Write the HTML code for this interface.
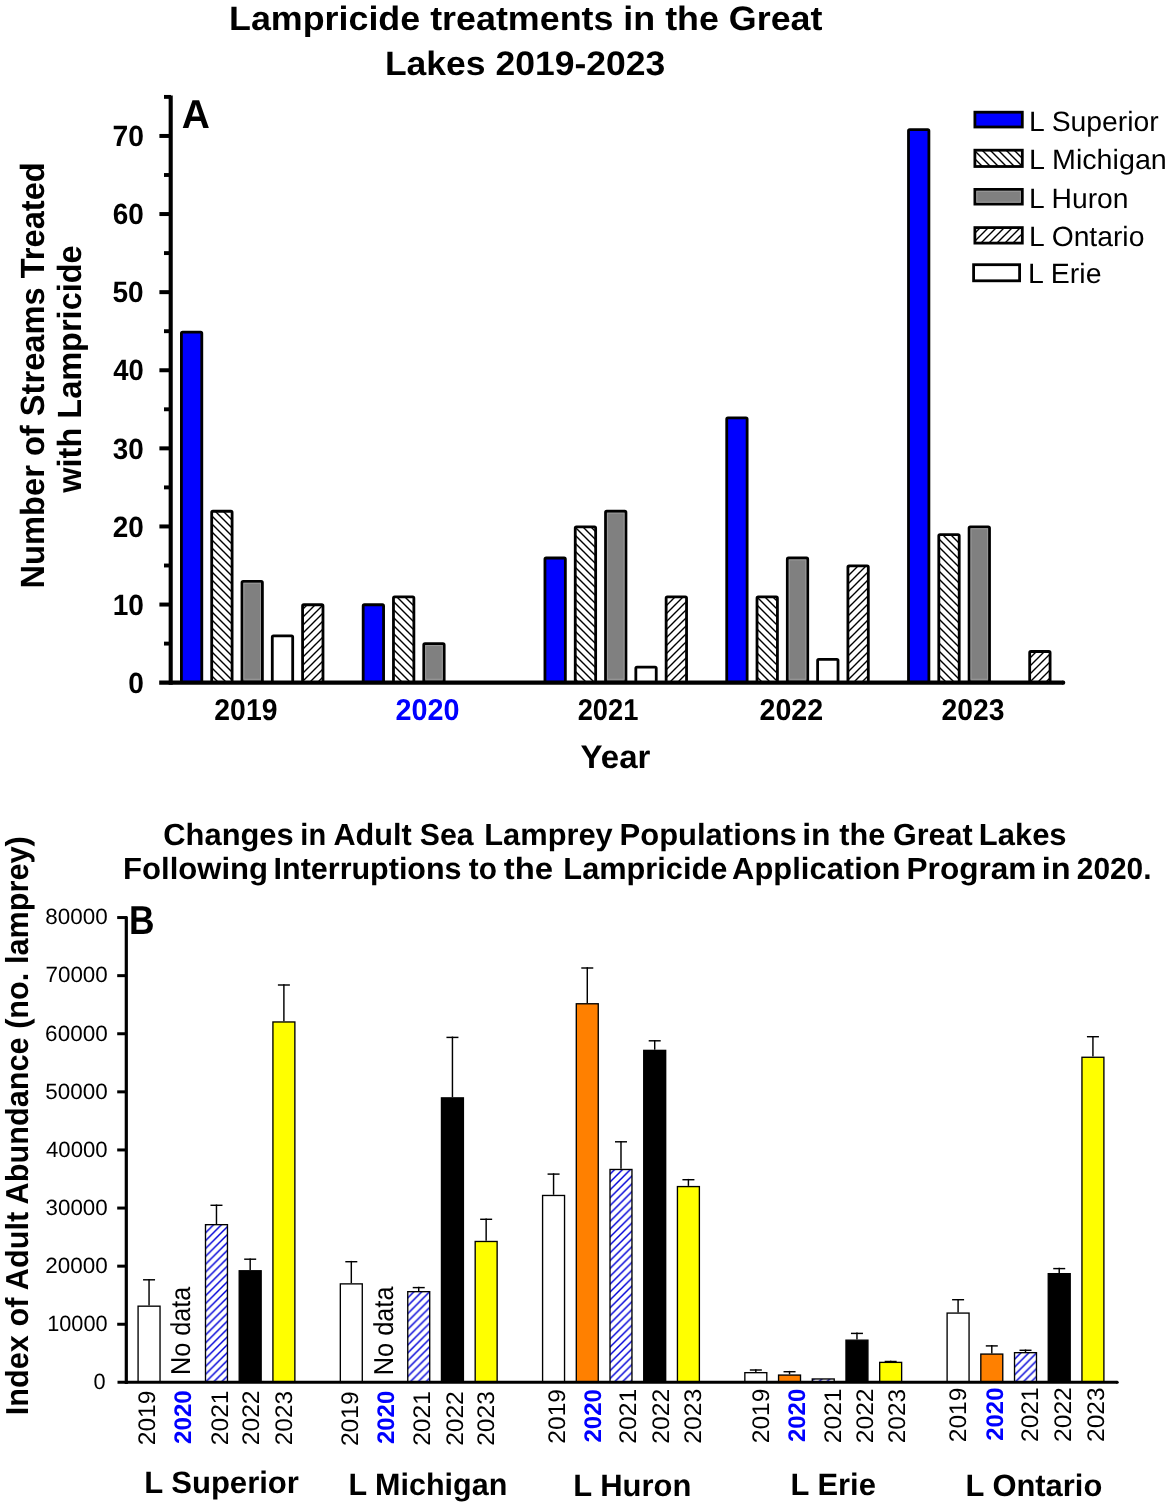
<!DOCTYPE html>
<html><head><meta charset="utf-8"><title>Lampricide treatments in the Great Lakes</title>
<style>
html,body{margin:0;padding:0;background:#fff;width:1170px;height:1505px;overflow:hidden}
svg{display:block;will-change:transform}
text{font-family:"Liberation Sans",sans-serif;text-rendering:geometricPrecision}
</style></head><body>
<svg width="1170" height="1505" viewBox="0 0 1170 1505">
<defs>
<pattern id="hatchB" patternUnits="userSpaceOnUse" width="8" height="8">
<rect width="8" height="8" fill="#fff"/>
<path d="M-2,-2 L10,10 M-2,6 L2,10 M6,-2 L10,2" stroke="#000" stroke-width="1.4"/>
</pattern>
<pattern id="hatchF" patternUnits="userSpaceOnUse" width="8" height="8">
<rect width="8" height="8" fill="#fff"/>
<path d="M-2,10 L10,-2 M-2,2 L2,-2 M6,10 L10,6" stroke="#000" stroke-width="1.4"/>
</pattern>
<pattern id="hatchBlue" patternUnits="userSpaceOnUse" width="7.86" height="7.86">
<rect width="7.86" height="7.86" fill="#fff"/>
<path d="M-2,9.86 L9.86,-2 M-2,2 L2,-2 M5.86,9.86 L9.86,5.86" stroke="#0000d8" stroke-width="1.4"/>
</pattern>
</defs>
<rect x="181.40" y="332.10" width="20.40" height="350.55" fill="#0000ff" stroke="#000" stroke-width="2.8" stroke-linejoin="round" rx="1.2"/>
<rect x="211.70" y="511.27" width="20.40" height="171.38" fill="url(#hatchB)" stroke="#000" stroke-width="2.8" stroke-linejoin="round" rx="1.2"/>
<rect x="241.99" y="581.38" width="20.40" height="101.27" fill="#808080" stroke="#000" stroke-width="2.8" stroke-linejoin="round" rx="1.2"/>
<rect x="243.89" y="583.28" width="16.60" height="95.97" fill="none" stroke="#9a9a9a" stroke-width="1"/>
<rect x="272.29" y="635.91" width="20.40" height="46.74" fill="#ffffff" stroke="#000" stroke-width="2.8" stroke-linejoin="round" rx="1.2"/>
<rect x="302.58" y="604.75" width="20.40" height="77.90" fill="url(#hatchF)" stroke="#000" stroke-width="2.8" stroke-linejoin="round" rx="1.2"/>
<rect x="363.18" y="604.75" width="20.40" height="77.90" fill="#0000ff" stroke="#000" stroke-width="2.8" stroke-linejoin="round" rx="1.2"/>
<rect x="393.47" y="596.96" width="20.40" height="85.69" fill="url(#hatchB)" stroke="#000" stroke-width="2.8" stroke-linejoin="round" rx="1.2"/>
<rect x="423.77" y="643.70" width="20.40" height="38.95" fill="#808080" stroke="#000" stroke-width="2.8" stroke-linejoin="round" rx="1.2"/>
<rect x="425.67" y="645.60" width="16.60" height="33.65" fill="none" stroke="#9a9a9a" stroke-width="1"/>
<rect x="544.95" y="558.01" width="20.40" height="124.64" fill="#0000ff" stroke="#000" stroke-width="2.8" stroke-linejoin="round" rx="1.2"/>
<rect x="575.25" y="526.85" width="20.40" height="155.80" fill="url(#hatchB)" stroke="#000" stroke-width="2.8" stroke-linejoin="round" rx="1.2"/>
<rect x="605.54" y="511.27" width="20.40" height="171.38" fill="#808080" stroke="#000" stroke-width="2.8" stroke-linejoin="round" rx="1.2"/>
<rect x="607.44" y="513.17" width="16.60" height="166.08" fill="none" stroke="#9a9a9a" stroke-width="1"/>
<rect x="635.84" y="667.07" width="20.40" height="15.58" fill="#ffffff" stroke="#000" stroke-width="2.8" stroke-linejoin="round" rx="1.2"/>
<rect x="666.14" y="596.96" width="20.40" height="85.69" fill="url(#hatchF)" stroke="#000" stroke-width="2.8" stroke-linejoin="round" rx="1.2"/>
<rect x="726.73" y="417.79" width="20.40" height="264.86" fill="#0000ff" stroke="#000" stroke-width="2.8" stroke-linejoin="round" rx="1.2"/>
<rect x="757.02" y="596.96" width="20.40" height="85.69" fill="url(#hatchB)" stroke="#000" stroke-width="2.8" stroke-linejoin="round" rx="1.2"/>
<rect x="787.32" y="558.01" width="20.40" height="124.64" fill="#808080" stroke="#000" stroke-width="2.8" stroke-linejoin="round" rx="1.2"/>
<rect x="789.22" y="559.91" width="16.60" height="119.34" fill="none" stroke="#9a9a9a" stroke-width="1"/>
<rect x="817.62" y="659.28" width="20.40" height="23.37" fill="#ffffff" stroke="#000" stroke-width="2.8" stroke-linejoin="round" rx="1.2"/>
<rect x="847.91" y="565.80" width="20.40" height="116.85" fill="url(#hatchF)" stroke="#000" stroke-width="2.8" stroke-linejoin="round" rx="1.2"/>
<rect x="908.50" y="129.56" width="20.40" height="553.09" fill="#0000ff" stroke="#000" stroke-width="2.8" stroke-linejoin="round" rx="1.2"/>
<rect x="938.80" y="534.64" width="20.40" height="148.01" fill="url(#hatchB)" stroke="#000" stroke-width="2.8" stroke-linejoin="round" rx="1.2"/>
<rect x="969.10" y="526.85" width="20.40" height="155.80" fill="#808080" stroke="#000" stroke-width="2.8" stroke-linejoin="round" rx="1.2"/>
<rect x="971.00" y="528.75" width="16.60" height="150.50" fill="none" stroke="#9a9a9a" stroke-width="1"/>
<rect x="1029.69" y="651.49" width="20.40" height="31.16" fill="url(#hatchF)" stroke="#000" stroke-width="2.8" stroke-linejoin="round" rx="1.2"/>
<line x1="170.7" y1="95.6" x2="170.7" y2="684.7" stroke="#000" stroke-width="4.1"/>
<line x1="159.2" y1="682.65" x2="1063.25" y2="682.65" stroke="#000" stroke-width="4.1"/>
<circle cx="1063.25" cy="682.65" r="2.05" fill="#000"/>
<line x1="164" y1="643.60" x2="171" y2="643.60" stroke="#000" stroke-width="3.9"/>
<line x1="159.4" y1="604.55" x2="171" y2="604.55" stroke="#000" stroke-width="4"/>
<line x1="164" y1="565.50" x2="171" y2="565.50" stroke="#000" stroke-width="3.9"/>
<line x1="159.4" y1="526.45" x2="171" y2="526.45" stroke="#000" stroke-width="4"/>
<line x1="164" y1="487.40" x2="171" y2="487.40" stroke="#000" stroke-width="3.9"/>
<line x1="159.4" y1="448.35" x2="171" y2="448.35" stroke="#000" stroke-width="4"/>
<line x1="164" y1="409.30" x2="171" y2="409.30" stroke="#000" stroke-width="3.9"/>
<line x1="159.4" y1="370.25" x2="171" y2="370.25" stroke="#000" stroke-width="4"/>
<line x1="164" y1="331.20" x2="171" y2="331.20" stroke="#000" stroke-width="3.9"/>
<line x1="159.4" y1="292.15" x2="171" y2="292.15" stroke="#000" stroke-width="4"/>
<line x1="164" y1="253.10" x2="171" y2="253.10" stroke="#000" stroke-width="3.9"/>
<line x1="159.4" y1="214.05" x2="171" y2="214.05" stroke="#000" stroke-width="4"/>
<line x1="164" y1="175.00" x2="171" y2="175.00" stroke="#000" stroke-width="3.9"/>
<line x1="159.4" y1="135.95" x2="171" y2="135.95" stroke="#000" stroke-width="4"/>
<line x1="164" y1="96.90" x2="171" y2="96.90" stroke="#000" stroke-width="3.9"/>
<rect x="974.90" y="112.20" width="47.40" height="14.80" fill="#0000ff" stroke="#000" stroke-width="2.8"/>
<rect x="974.90" y="150.20" width="47.40" height="16.30" fill="url(#hatchB)" stroke="#000" stroke-width="2.8"/>
<rect x="974.90" y="189.40" width="47.40" height="14.70" fill="#808080" stroke="#000" stroke-width="2.8"/>
<rect x="976.80" y="191.30" width="43.60" height="10.90" fill="none" stroke="#9a9a9a" stroke-width="1"/>
<rect x="974.90" y="227.60" width="47.40" height="15.50" fill="url(#hatchF)" stroke="#000" stroke-width="2.8"/>
<rect x="973.60" y="264.70" width="46.00" height="16.10" fill="#ffffff" stroke="#000" stroke-width="2.8"/>
<line x1="149.05" y1="1305.50" x2="149.05" y2="1279.00" stroke="#000" stroke-width="1.45"/>
<line x1="143.05" y1="1279.80" x2="155.05" y2="1279.80" stroke="#000" stroke-width="1.45"/>
<rect x="138.08" y="1306.17" width="21.95" height="76.17" fill="#ffffff" stroke="#000" stroke-width="1.35"/>
<line x1="216.47" y1="1224.00" x2="216.47" y2="1204.50" stroke="#000" stroke-width="1.45"/>
<line x1="210.47" y1="1205.30" x2="222.47" y2="1205.30" stroke="#000" stroke-width="1.45"/>
<rect x="205.50" y="1224.67" width="21.95" height="157.67" fill="url(#hatchBlue)" stroke="#000" stroke-width="1.35"/>
<line x1="250.18" y1="1270.10" x2="250.18" y2="1258.40" stroke="#000" stroke-width="1.45"/>
<line x1="244.18" y1="1259.20" x2="256.18" y2="1259.20" stroke="#000" stroke-width="1.45"/>
<rect x="239.21" y="1270.77" width="21.95" height="111.58" fill="#000000" stroke="#000" stroke-width="1.35"/>
<line x1="283.89" y1="1021.30" x2="283.89" y2="984.20" stroke="#000" stroke-width="1.45"/>
<line x1="277.89" y1="985.00" x2="289.89" y2="985.00" stroke="#000" stroke-width="1.45"/>
<rect x="272.92" y="1021.97" width="21.95" height="360.38" fill="#ffff00" stroke="#000" stroke-width="1.35"/>
<line x1="351.31" y1="1283.20" x2="351.31" y2="1260.90" stroke="#000" stroke-width="1.45"/>
<line x1="345.31" y1="1261.70" x2="357.31" y2="1261.70" stroke="#000" stroke-width="1.45"/>
<rect x="340.33" y="1283.88" width="21.95" height="98.47" fill="#ffffff" stroke="#000" stroke-width="1.35"/>
<line x1="418.73" y1="1291.00" x2="418.73" y2="1286.80" stroke="#000" stroke-width="1.45"/>
<line x1="412.73" y1="1287.60" x2="424.73" y2="1287.60" stroke="#000" stroke-width="1.45"/>
<rect x="407.76" y="1291.67" width="21.95" height="90.67" fill="url(#hatchBlue)" stroke="#000" stroke-width="1.35"/>
<line x1="452.44" y1="1097.20" x2="452.44" y2="1036.60" stroke="#000" stroke-width="1.45"/>
<line x1="446.44" y1="1037.40" x2="458.44" y2="1037.40" stroke="#000" stroke-width="1.45"/>
<rect x="441.46" y="1097.88" width="21.95" height="284.47" fill="#000000" stroke="#000" stroke-width="1.35"/>
<line x1="486.15" y1="1240.80" x2="486.15" y2="1218.50" stroke="#000" stroke-width="1.45"/>
<line x1="480.15" y1="1219.30" x2="492.15" y2="1219.30" stroke="#000" stroke-width="1.45"/>
<rect x="475.18" y="1241.47" width="21.95" height="140.88" fill="#ffff00" stroke="#000" stroke-width="1.35"/>
<line x1="553.57" y1="1194.80" x2="553.57" y2="1173.30" stroke="#000" stroke-width="1.45"/>
<line x1="547.57" y1="1174.10" x2="559.57" y2="1174.10" stroke="#000" stroke-width="1.45"/>
<rect x="542.59" y="1195.47" width="21.95" height="186.88" fill="#ffffff" stroke="#000" stroke-width="1.35"/>
<line x1="587.28" y1="1003.10" x2="587.28" y2="967.20" stroke="#000" stroke-width="1.45"/>
<line x1="581.28" y1="968.00" x2="593.28" y2="968.00" stroke="#000" stroke-width="1.45"/>
<rect x="576.30" y="1003.77" width="21.95" height="378.57" fill="#ff8000" stroke="#000" stroke-width="1.35"/>
<line x1="620.99" y1="1168.80" x2="620.99" y2="1141.00" stroke="#000" stroke-width="1.45"/>
<line x1="614.99" y1="1141.80" x2="626.99" y2="1141.80" stroke="#000" stroke-width="1.45"/>
<rect x="610.01" y="1169.47" width="21.95" height="212.88" fill="url(#hatchBlue)" stroke="#000" stroke-width="1.35"/>
<line x1="654.70" y1="1049.70" x2="654.70" y2="1040.00" stroke="#000" stroke-width="1.45"/>
<line x1="648.70" y1="1040.80" x2="660.70" y2="1040.80" stroke="#000" stroke-width="1.45"/>
<rect x="643.73" y="1050.38" width="21.95" height="331.97" fill="#000000" stroke="#000" stroke-width="1.35"/>
<line x1="688.41" y1="1185.90" x2="688.41" y2="1178.90" stroke="#000" stroke-width="1.45"/>
<line x1="682.41" y1="1179.70" x2="694.41" y2="1179.70" stroke="#000" stroke-width="1.45"/>
<rect x="677.43" y="1186.58" width="21.95" height="195.77" fill="#ffff00" stroke="#000" stroke-width="1.35"/>
<line x1="755.83" y1="1372.00" x2="755.83" y2="1369.20" stroke="#000" stroke-width="1.45"/>
<line x1="749.83" y1="1370.00" x2="761.83" y2="1370.00" stroke="#000" stroke-width="1.45"/>
<rect x="744.85" y="1372.67" width="21.95" height="9.67" fill="#ffffff" stroke="#000" stroke-width="1.35"/>
<line x1="789.54" y1="1374.40" x2="789.54" y2="1370.90" stroke="#000" stroke-width="1.45"/>
<line x1="783.54" y1="1371.70" x2="795.54" y2="1371.70" stroke="#000" stroke-width="1.45"/>
<rect x="778.56" y="1375.08" width="21.95" height="7.27" fill="#ff8000" stroke="#000" stroke-width="1.35"/>
<rect x="812.27" y="1378.97" width="21.95" height="3.38" fill="url(#hatchBlue)" stroke="#000" stroke-width="1.35"/>
<line x1="856.96" y1="1339.50" x2="856.96" y2="1332.60" stroke="#000" stroke-width="1.45"/>
<line x1="850.96" y1="1333.40" x2="862.96" y2="1333.40" stroke="#000" stroke-width="1.45"/>
<rect x="845.98" y="1340.17" width="21.95" height="42.17" fill="#000000" stroke="#000" stroke-width="1.35"/>
<line x1="890.67" y1="1361.70" x2="890.67" y2="1360.70" stroke="#000" stroke-width="1.45"/>
<line x1="884.67" y1="1361.50" x2="896.67" y2="1361.50" stroke="#000" stroke-width="1.45"/>
<rect x="879.69" y="1362.38" width="21.95" height="19.97" fill="#ffff00" stroke="#000" stroke-width="1.35"/>
<line x1="958.09" y1="1312.40" x2="958.09" y2="1298.90" stroke="#000" stroke-width="1.45"/>
<line x1="952.09" y1="1299.70" x2="964.09" y2="1299.70" stroke="#000" stroke-width="1.45"/>
<rect x="947.11" y="1313.08" width="21.95" height="69.27" fill="#ffffff" stroke="#000" stroke-width="1.35"/>
<line x1="991.80" y1="1353.40" x2="991.80" y2="1345.10" stroke="#000" stroke-width="1.45"/>
<line x1="985.80" y1="1345.90" x2="997.80" y2="1345.90" stroke="#000" stroke-width="1.45"/>
<rect x="980.82" y="1354.08" width="21.95" height="28.27" fill="#ff8000" stroke="#000" stroke-width="1.35"/>
<line x1="1025.51" y1="1352.00" x2="1025.51" y2="1349.50" stroke="#000" stroke-width="1.45"/>
<line x1="1019.51" y1="1350.30" x2="1031.51" y2="1350.30" stroke="#000" stroke-width="1.45"/>
<rect x="1014.53" y="1352.67" width="21.95" height="29.67" fill="url(#hatchBlue)" stroke="#000" stroke-width="1.35"/>
<line x1="1059.22" y1="1273.00" x2="1059.22" y2="1267.80" stroke="#000" stroke-width="1.45"/>
<line x1="1053.22" y1="1268.60" x2="1065.22" y2="1268.60" stroke="#000" stroke-width="1.45"/>
<rect x="1048.25" y="1273.67" width="21.95" height="108.67" fill="#000000" stroke="#000" stroke-width="1.35"/>
<line x1="1092.93" y1="1056.60" x2="1092.93" y2="1035.90" stroke="#000" stroke-width="1.45"/>
<line x1="1086.93" y1="1036.70" x2="1098.93" y2="1036.70" stroke="#000" stroke-width="1.45"/>
<rect x="1081.95" y="1057.27" width="21.95" height="325.08" fill="#ffff00" stroke="#000" stroke-width="1.35"/>
<line x1="126.3" y1="916.5" x2="126.3" y2="1384" stroke="#000" stroke-width="3.2"/>
<line x1="117.5" y1="1382.35" x2="1117.2" y2="1382.35" stroke="#000" stroke-width="3"/>
<circle cx="1117.2" cy="1382.35" r="1.5" fill="#000"/>
<line x1="117.2" y1="1324.25" x2="127" y2="1324.25" stroke="#000" stroke-width="3"/>
<line x1="117.2" y1="1266.15" x2="127" y2="1266.15" stroke="#000" stroke-width="3"/>
<line x1="117.2" y1="1208.05" x2="127" y2="1208.05" stroke="#000" stroke-width="3"/>
<line x1="117.2" y1="1149.95" x2="127" y2="1149.95" stroke="#000" stroke-width="3"/>
<line x1="117.2" y1="1091.85" x2="127" y2="1091.85" stroke="#000" stroke-width="3"/>
<line x1="117.2" y1="1033.75" x2="127" y2="1033.75" stroke="#000" stroke-width="3"/>
<line x1="117.2" y1="975.65" x2="127" y2="975.65" stroke="#000" stroke-width="3"/>
<line x1="117.2" y1="917.55" x2="127" y2="917.55" stroke="#000" stroke-width="3"/>
<text x="228.99" y="29.7" font-size="33.9" font-weight="bold" textLength="593.51" lengthAdjust="spacingAndGlyphs">Lampricide treatments in the Great</text>
<text x="384.90" y="74.6" font-size="33.9" font-weight="bold" textLength="280.45" lengthAdjust="spacingAndGlyphs">Lakes 2019-2023</text>
<text x="181.69" y="128.0" font-size="40.5" font-weight="bold" textLength="28.15" lengthAdjust="spacingAndGlyphs">A</text>
<text x="128.25" y="692.85" font-size="29.3" font-weight="bold" textLength="15.65" lengthAdjust="spacingAndGlyphs">0</text>
<text x="112.64" y="614.75" font-size="29.3" font-weight="bold" textLength="31.27" lengthAdjust="spacingAndGlyphs">10</text>
<text x="112.79" y="536.65" font-size="29.3" font-weight="bold" textLength="31.06" lengthAdjust="spacingAndGlyphs">20</text>
<text x="112.80" y="458.55" font-size="29.3" font-weight="bold" textLength="31.01" lengthAdjust="spacingAndGlyphs">30</text>
<text x="113.33" y="380.45" font-size="29.3" font-weight="bold" textLength="30.48" lengthAdjust="spacingAndGlyphs">40</text>
<text x="112.57" y="302.35" font-size="29.3" font-weight="bold" textLength="31.13" lengthAdjust="spacingAndGlyphs">50</text>
<text x="112.70" y="224.25" font-size="29.3" font-weight="bold" textLength="31.09" lengthAdjust="spacingAndGlyphs">60</text>
<text x="112.52" y="146.15" font-size="29.3" font-weight="bold" textLength="31.46" lengthAdjust="spacingAndGlyphs">70</text>
<text x="214.35" y="719.9" font-size="30.1" font-weight="bold" textLength="63.08" lengthAdjust="spacingAndGlyphs">2019</text>
<text x="395.53" y="719.9" font-size="30.1" font-weight="bold" fill="#0000ff" textLength="64.02" lengthAdjust="spacingAndGlyphs">2020</text>
<text x="577.63" y="719.9" font-size="30.1" font-weight="bold" textLength="60.72" lengthAdjust="spacingAndGlyphs">2021</text>
<text x="759.52" y="719.9" font-size="30.1" font-weight="bold" textLength="63.63" lengthAdjust="spacingAndGlyphs">2022</text>
<text x="941.60" y="719.9" font-size="30.1" font-weight="bold" textLength="62.91" lengthAdjust="spacingAndGlyphs">2023</text>
<text x="580.61" y="767.7" font-size="32.6" font-weight="bold" textLength="69.80" lengthAdjust="spacingAndGlyphs">Year</text>
<text x="1029.13" y="130.6" font-size="27.9" textLength="129.66" lengthAdjust="spacingAndGlyphs">L Superior</text>
<text x="1029.14" y="168.7" font-size="27.9" textLength="137.69" lengthAdjust="spacingAndGlyphs">L Michigan</text>
<text x="1029.08" y="207.6" font-size="27.9" textLength="99.48" lengthAdjust="spacingAndGlyphs">L Huron</text>
<text x="1029.12" y="245.7" font-size="27.9" textLength="115.24" lengthAdjust="spacingAndGlyphs">L Ontario</text>
<text x="1028.12" y="283.2" font-size="27.9" textLength="73.46" lengthAdjust="spacingAndGlyphs">L Erie</text>
<text transform="translate(43.8,0) rotate(-90)" x="-588.47" y="0" font-size="33.6" font-weight="bold" textLength="426.27" lengthAdjust="spacingAndGlyphs">Number of Streams Treated</text>
<text transform="translate(81.0,0) rotate(-90)" x="-492.71" y="0" font-size="33.6" font-weight="bold" textLength="247.38" lengthAdjust="spacingAndGlyphs">with Lampricide</text>
<text x="163.33" y="844.9" font-size="30.6" font-weight="bold" textLength="130.37" lengthAdjust="spacingAndGlyphs">Changes</text>
<text x="300.33" y="844.9" font-size="30.6" font-weight="bold" textLength="25.77" lengthAdjust="spacingAndGlyphs">in</text>
<text x="333.48" y="844.9" font-size="30.6" font-weight="bold" textLength="78.26" lengthAdjust="spacingAndGlyphs">Adult</text>
<text x="419.84" y="844.9" font-size="30.6" font-weight="bold" textLength="53.79" lengthAdjust="spacingAndGlyphs">Sea</text>
<text x="484.28" y="844.9" font-size="30.6" font-weight="bold" textLength="128.49" lengthAdjust="spacingAndGlyphs">Lamprey</text>
<text x="619.60" y="844.9" font-size="30.6" font-weight="bold" textLength="177.25" lengthAdjust="spacingAndGlyphs">Populations</text>
<text x="802.18" y="844.9" font-size="30.6" font-weight="bold" textLength="28.35" lengthAdjust="spacingAndGlyphs">in</text>
<text x="839.36" y="844.9" font-size="30.6" font-weight="bold" textLength="45.98" lengthAdjust="spacingAndGlyphs">the</text>
<text x="892.92" y="844.9" font-size="30.6" font-weight="bold" textLength="79.67" lengthAdjust="spacingAndGlyphs">Great</text>
<text x="978.84" y="844.9" font-size="30.6" font-weight="bold" textLength="87.76" lengthAdjust="spacingAndGlyphs">Lakes</text>
<text x="123.07" y="878.8" font-size="30.6" font-weight="bold" textLength="145.04" lengthAdjust="spacingAndGlyphs">Following</text>
<text x="273.59" y="878.8" font-size="30.6" font-weight="bold" textLength="187.99" lengthAdjust="spacingAndGlyphs">Interruptions</text>
<text x="468.83" y="878.8" font-size="30.6" font-weight="bold" textLength="28.11" lengthAdjust="spacingAndGlyphs">to</text>
<text x="503.69" y="878.8" font-size="30.6" font-weight="bold" textLength="49.29" lengthAdjust="spacingAndGlyphs">the</text>
<text x="563.35" y="878.8" font-size="30.6" font-weight="bold" textLength="164.06" lengthAdjust="spacingAndGlyphs">Lampricide</text>
<text x="732.14" y="878.8" font-size="30.6" font-weight="bold" textLength="168.40" lengthAdjust="spacingAndGlyphs">Application</text>
<text x="906.57" y="878.8" font-size="30.6" font-weight="bold" textLength="129.82" lengthAdjust="spacingAndGlyphs">Program</text>
<text x="1041.76" y="878.8" font-size="30.6" font-weight="bold" textLength="28.87" lengthAdjust="spacingAndGlyphs">in</text>
<text x="1076.81" y="878.8" font-size="30.6" font-weight="bold" textLength="74.69" lengthAdjust="spacingAndGlyphs">2020.</text>
<text x="129.12" y="934.2" font-size="40.5" font-weight="bold" textLength="25.49" lengthAdjust="spacingAndGlyphs">B</text>
<text x="93.42" y="1389.1" font-size="22.1" textLength="12.11" lengthAdjust="spacingAndGlyphs">0</text>
<text x="47.20" y="1331.0" font-size="22.1" textLength="60.35" lengthAdjust="spacingAndGlyphs">10000</text>
<text x="45.21" y="1272.9" font-size="22.1" textLength="62.43" lengthAdjust="spacingAndGlyphs">20000</text>
<text x="45.57" y="1214.8" font-size="22.1" textLength="62.17" lengthAdjust="spacingAndGlyphs">30000</text>
<text x="46.06" y="1156.7" font-size="22.1" textLength="61.58" lengthAdjust="spacingAndGlyphs">40000</text>
<text x="45.26" y="1098.6" font-size="22.1" textLength="62.42" lengthAdjust="spacingAndGlyphs">50000</text>
<text x="45.13" y="1040.5" font-size="22.1" textLength="62.56" lengthAdjust="spacingAndGlyphs">60000</text>
<text x="45.53" y="982.4" font-size="22.1" textLength="62.21" lengthAdjust="spacingAndGlyphs">70000</text>
<text x="45.35" y="924.3" font-size="22.1" textLength="62.39" lengthAdjust="spacingAndGlyphs">80000</text>
<text transform="translate(28.2,0) rotate(-90)" x="-1415.21" y="0" font-size="31.8" font-weight="bold" textLength="579.00" lengthAdjust="spacingAndGlyphs">Index of Adult Abundance (no. lamprey)</text>
<text transform="translate(189.8,0) rotate(-90)" x="-1375.04" y="0" font-size="27.4" textLength="88.42" lengthAdjust="spacingAndGlyphs">No data</text>
<text transform="translate(393.3,0) rotate(-90)" x="-1375.23" y="0" font-size="27.4" textLength="88.69" lengthAdjust="spacingAndGlyphs">No data</text>
<text transform="translate(155.1,0) rotate(-90)" x="-1445.23" y="0" font-size="24.0" textLength="54.56" lengthAdjust="spacingAndGlyphs">2019</text>
<text transform="translate(191.4,0) rotate(-90)" x="-1443.88" y="0" font-size="24.0" font-weight="bold" fill="#0000ff" textLength="53.58" lengthAdjust="spacingAndGlyphs">2020</text>
<text transform="translate(227.8,0) rotate(-90)" x="-1445.23" y="0" font-size="24.0" textLength="54.78" lengthAdjust="spacingAndGlyphs">2021</text>
<text transform="translate(259.4,0) rotate(-90)" x="-1445.23" y="0" font-size="24.0" textLength="54.78" lengthAdjust="spacingAndGlyphs">2022</text>
<text transform="translate(291.5,0) rotate(-90)" x="-1445.22" y="0" font-size="24.0" textLength="54.25" lengthAdjust="spacingAndGlyphs">2023</text>
<text transform="translate(357.7,0) rotate(-90)" x="-1446.06" y="0" font-size="24.0" textLength="54.58" lengthAdjust="spacingAndGlyphs">2019</text>
<text transform="translate(394.1,0) rotate(-90)" x="-1444.08" y="0" font-size="24.0" font-weight="bold" fill="#0000ff" textLength="53.34" lengthAdjust="spacingAndGlyphs">2020</text>
<text transform="translate(429.5,0) rotate(-90)" x="-1445.87" y="0" font-size="24.0" textLength="54.70" lengthAdjust="spacingAndGlyphs">2021</text>
<text transform="translate(462.5,0) rotate(-90)" x="-1445.87" y="0" font-size="24.0" textLength="54.60" lengthAdjust="spacingAndGlyphs">2022</text>
<text transform="translate(493.9,0) rotate(-90)" x="-1445.85" y="0" font-size="24.0" textLength="54.65" lengthAdjust="spacingAndGlyphs">2023</text>
<text transform="translate(564.5,0) rotate(-90)" x="-1443.70" y="0" font-size="24.0" textLength="54.71" lengthAdjust="spacingAndGlyphs">2019</text>
<text transform="translate(601.0,0) rotate(-90)" x="-1442.50" y="0" font-size="24.0" font-weight="bold" fill="#0000ff" textLength="53.45" lengthAdjust="spacingAndGlyphs">2020</text>
<text transform="translate(636.3,0) rotate(-90)" x="-1443.65" y="0" font-size="24.0" textLength="54.88" lengthAdjust="spacingAndGlyphs">2021</text>
<text transform="translate(669.3,0) rotate(-90)" x="-1443.65" y="0" font-size="24.0" textLength="54.88" lengthAdjust="spacingAndGlyphs">2022</text>
<text transform="translate(701.3,0) rotate(-90)" x="-1443.65" y="0" font-size="24.0" textLength="54.88" lengthAdjust="spacingAndGlyphs">2023</text>
<text transform="translate(769.2,0) rotate(-90)" x="-1443.23" y="0" font-size="24.0" textLength="54.56" lengthAdjust="spacingAndGlyphs">2019</text>
<text transform="translate(805.2,0) rotate(-90)" x="-1442.10" y="0" font-size="24.0" font-weight="bold" fill="#0000ff" textLength="53.36" lengthAdjust="spacingAndGlyphs">2020</text>
<text transform="translate(840.6,0) rotate(-90)" x="-1443.23" y="0" font-size="24.0" textLength="54.78" lengthAdjust="spacingAndGlyphs">2021</text>
<text transform="translate(873.1,0) rotate(-90)" x="-1443.23" y="0" font-size="24.0" textLength="54.78" lengthAdjust="spacingAndGlyphs">2022</text>
<text transform="translate(904.7,0) rotate(-90)" x="-1443.22" y="0" font-size="24.0" textLength="54.25" lengthAdjust="spacingAndGlyphs">2023</text>
<text transform="translate(966.3,0) rotate(-90)" x="-1442.23" y="0" font-size="24.0" textLength="54.56" lengthAdjust="spacingAndGlyphs">2019</text>
<text transform="translate(1003.3,0) rotate(-90)" x="-1440.84" y="0" font-size="24.0" font-weight="bold" fill="#0000ff" textLength="53.28" lengthAdjust="spacingAndGlyphs">2020</text>
<text transform="translate(1038.0,0) rotate(-90)" x="-1441.94" y="0" font-size="24.0" textLength="54.61" lengthAdjust="spacingAndGlyphs">2021</text>
<text transform="translate(1071.0,0) rotate(-90)" x="-1441.95" y="0" font-size="24.0" textLength="54.64" lengthAdjust="spacingAndGlyphs">2022</text>
<text transform="translate(1103.5,0) rotate(-90)" x="-1441.95" y="0" font-size="24.0" textLength="54.43" lengthAdjust="spacingAndGlyphs">2023</text>
<text x="144.16" y="1492.6" font-size="30.9" font-weight="bold" textLength="154.79" lengthAdjust="spacingAndGlyphs">L Superior</text>
<text x="348.57" y="1494.8" font-size="30.9" font-weight="bold" textLength="158.77" lengthAdjust="spacingAndGlyphs">L Michigan</text>
<text x="573.29" y="1495.9" font-size="30.9" font-weight="bold" textLength="118.06" lengthAdjust="spacingAndGlyphs">L Huron</text>
<text x="790.54" y="1494.8" font-size="30.9" font-weight="bold" textLength="85.28" lengthAdjust="spacingAndGlyphs">L Erie</text>
<text x="965.51" y="1495.6" font-size="30.9" font-weight="bold" textLength="136.76" lengthAdjust="spacingAndGlyphs">L Ontario</text>
</svg>
</body></html>
